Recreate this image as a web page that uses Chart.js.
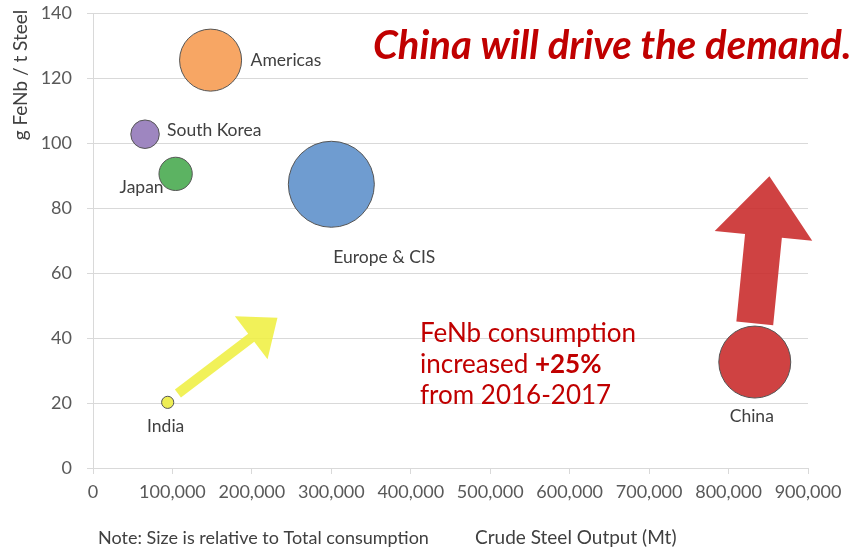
<!DOCTYPE html>
<html>
<head>
<meta charset="utf-8">
<script src="https://cdn.jsdelivr.net/npm/chart.js@4/dist/chart.umd.min.js"></script>
<style>
  html, body { margin: 0; padding: 0; background: #fff; }
  #wrap { width: 853px; height: 548px; position: relative; }
</style>
</head>
<body>
<div id="wrap"><canvas id="chart" width="853" height="548"></canvas></div>
<script>
// regions
const regions = ['Americas', 'South Korea', 'Japan', 'Europe & CIS', 'India', 'China'];
const steelOutput = [148000, 65500, 104000, 300000, 94000, 833000];   // Crude Steel Output (Mt)
const intensity = [125.5, 102.7, 90.5, 87.3, 20.2, 32.6];             // g FeNb / t Steel
const consumption = [52, 11, 15, 100, 2, 70];                         // relative bubble size
const colors = ['#F7A664', '#9E86C0', '#5CB362', '#6F9CD0', '#EEEE55', '#CF4242'];
const xTicks = [0, 100000, 200000, 300000, 400000, 500000, 600000, 700000, 800000, 900000];
const yTicks = [0, 20, 40, 60, 80, 100, 120, 140];

// arrows in data units: [fromX, fromY, toX, toY]
const yellowArrow = [106900, 22.9, 232200, 46.2];
const redArrow = [833000, 44.5, 851400, 89.8];

const FONT = 'Lato, "Open Sans", sans-serif';

// label placement around each bubble (dx, dy, align)
const labelPos = {
  'Americas': [40, 0, 'left'],
  'South Korea': [22, -4, 'left'],
  'Japan': [-12, 13, 'right'],
  'Europe & CIS': [2, 73, 'left'],
  'India': [-2, 24, 'center'],
  'China': [-3, 54, 'center']
};

function drawArrow(ctx, x0, y0, x1, y1, shaft, headLen, headHalf, color) {
  const ang = Math.atan2(y1 - y0, x1 - x0);
  const len = Math.hypot(x1 - x0, y1 - y0);
  ctx.save();
  ctx.translate(x0, y0);
  ctx.rotate(ang);
  ctx.beginPath();
  ctx.moveTo(0, -shaft / 2);
  ctx.lineTo(len - headLen, -shaft / 2);
  ctx.lineTo(len - headLen, -headHalf);
  ctx.lineTo(len, 0);
  ctx.lineTo(len - headLen, headHalf);
  ctx.lineTo(len - headLen, shaft / 2);
  ctx.lineTo(0, shaft / 2);
  ctx.closePath();
  ctx.fillStyle = color;
  ctx.fill();
  ctx.restore();
}

const extras = {
  id: 'extras',
  afterDatasetsDraw(chart) {
    const ctx = chart.ctx;
    const xs = chart.scales.x, ys = chart.scales.y;

    // bubble labels
    const meta = chart.getDatasetMeta(0);
    ctx.save();
    ctx.font = '17.5px ' + FONT;
    ctx.fillStyle = '#404040';
    ctx.textBaseline = 'middle';
    meta.data.forEach((el, i) => {
      const p = labelPos[regions[i]];
      ctx.textAlign = p[2];
      ctx.fillText(regions[i], el.x + p[0], el.y + p[1]);
    });
    ctx.restore();

    // arrows
    const ya = yellowArrow.map((v, i) => i % 2 ? ys.getPixelForValue(v) : xs.getPixelForValue(v));
    drawArrow(ctx, ya[0], ya[1], ya[2], ya[3], 10, 33, 27, 'rgba(238,238,60,0.85)');
    const ra = redArrow.map((v, i) => i % 2 ? ys.getPixelForValue(v) : xs.getPixelForValue(v));
    drawArrow(ctx, ra[0], ra[1], ra[2], ra[3], 37, 60, 49, 'rgba(200,40,40,0.88)');

    ctx.save();
    // headline
    ctx.fillStyle = '#C00000';
    ctx.font = 'italic bold 40px ' + FONT;
    ctx.textAlign = 'left';
    ctx.textBaseline = 'alphabetic';
    ctx.fillText('China will drive the demand.', 373, 59);

    // note in the middle
    ctx.font = '26px ' + FONT;
    ctx.fillText('FeNb consumption', 420, 342);
    ctx.fillText('increased ', 420, 373);
    const w = ctx.measureText('increased ').width;
    ctx.font = 'bold 26px ' + FONT;
    ctx.fillText('+25%', 420 + w, 373);
    ctx.font = '26px ' + FONT;
    ctx.fillText('from 2016-2017', 420, 404);

    // axis titles and footnote
    ctx.fillStyle = '#404040';
    ctx.font = '18px ' + FONT;
    ctx.fillText('Note: Size is relative to Total consumption', 98, 544);
    ctx.font = '19px ' + FONT;
    ctx.fillText('Crude Steel Output (Mt)', 475, 544);
    ctx.translate(27, 75);
    ctx.rotate(-Math.PI / 2);
    ctx.textAlign = 'center';
    ctx.font = '19px ' + FONT;
    ctx.fillText('g FeNb / t Steel', 0, 0);
    ctx.restore();
  }
};

new Chart(document.getElementById('chart'), {
  type: 'bubble',
  data: {
    datasets: [{
      data: regions.map((r, i) => ({ x: steelOutput[i], y: intensity[i], size: consumption[i] })),
      backgroundColor: colors,
      borderColor: '#555555',
      borderWidth: 1,
      radius: ctx => 4.3 * Math.sqrt(ctx.raw.size)
    }]
  },
  options: {
    responsive: false,
    animation: false,
    layout: { autoPadding: false, padding: { top: 13, right: 45, left: 0, bottom: 0 } },
    plugins: { legend: { display: false }, tooltip: { enabled: false } },
    scales: {
      x: {
        type: 'linear',
        min: 0, max: 900000,
        afterBuildTicks: s => { s.ticks = xTicks.map(v => ({ value: v })); },
        afterFit: s => { s.height = 80; s.paddingLeft = 0; s.paddingRight = 0; },
        border: { color: '#D9D9D9' },
        grid: { drawOnChartArea: false, tickLength: 6, color: '#D9D9D9' },
        ticks: {
          autoSkip: false, maxRotation: 0, padding: 7,
          color: '#595959', font: { family: FONT, size: 18 },
          callback: v => v.toLocaleString('en-US')
        }
      },
      y: {
        min: 0, max: 140,
        afterBuildTicks: s => { s.ticks = yTicks.map(v => ({ value: v })); },
        afterFit: s => { s.width = 93; s.paddingTop = 0; s.paddingBottom = 0; },
        border: { color: '#D9D9D9' },
        grid: { tickLength: 6, color: '#D9D9D9' },
        ticks: { padding: 15, color: '#595959', font: { family: FONT, size: 18 } }
      }
    }
  },
  plugins: [extras]
});
</script>
</body>
</html>
